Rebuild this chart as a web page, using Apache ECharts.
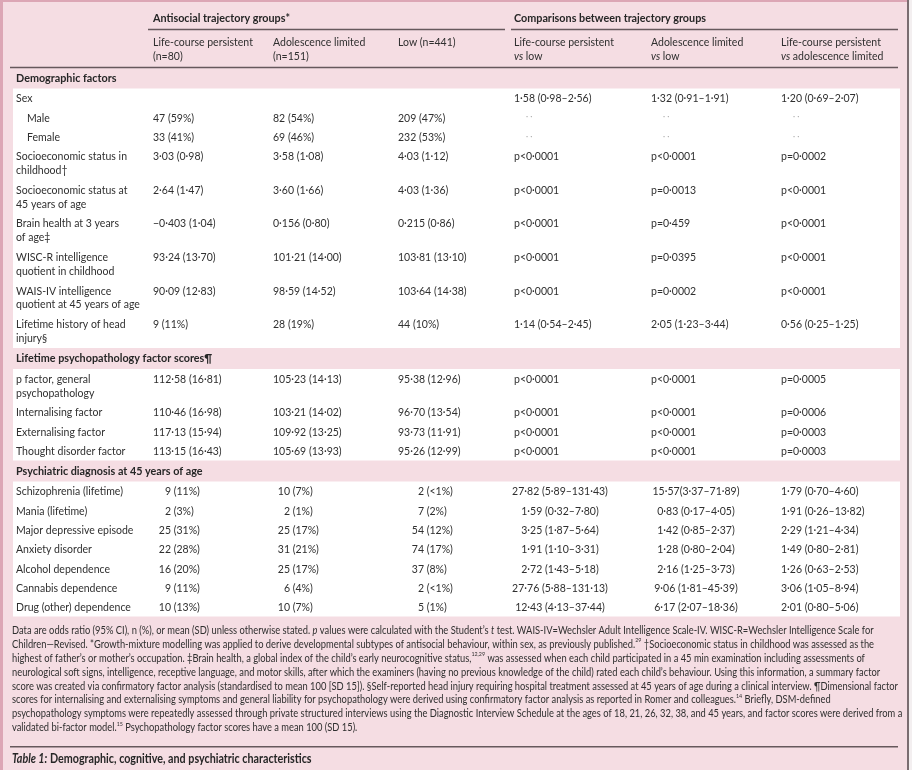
<!DOCTYPE html>
<html><head><meta charset="utf-8">
<script src="https://cdn.jsdelivr.net/npm/echarts/dist/echarts.min.js"></script>
<style>html,body{margin:0;padding:0;background:#fff}#c{width:912px;height:770px}</style>
</head><body><div id="c"></div>
<script>
// ---------------- DATA ----------------
const groupTitles = ['Antisocial trajectory groups*', 'Comparisons between trajectory groups'];
const columnTitles = ['Life-course persistent\n(n=80)', 'Adolescence limited\n(n=151)', 'Low (n=441)',
  'Life-course persistent\n{i|vs} low', 'Adolescence limited\n{i|vs} low', 'Life-course persistent\n{i|vs} adolescence limited'];
const sectionTitles = ['Demographic factors', 'Lifetime psychopathology factor scores¶', 'Psychiatric diagnosis at 45 years of age'];

const demoLabels = ['Sex', 'Male', 'Female', 'Socioeconomic status in\nchildhood†', 'Socioeconomic status at\n45 years of age',
  'Brain health at 3 years\nof age‡', 'WISC-R intelligence\nquotient in childhood', 'WAIS-IV intelligence\nquotient at 45 years of age',
  'Lifetime history of head\ninjury§'];
const demoLCP = ['', '47 (59%)', '33 (41%)', '3·03 (0·98)', '2·64 (1·47)', '−0·403 (1·04)', '93·24 (13·70)', '90·09 (12·83)', '9 (11%)'];
const demoAL = ['', '82 (54%)', '69 (46%)', '3·58 (1·08)', '3·60 (1·66)', '0·156 (0·80)', '101·21 (14·00)', '98·59 (14·52)', '28 (19%)'];
const demoLow = ['', '209 (47%)', '232 (53%)', '4·03 (1·12)', '4·03 (1·36)', '0·215 (0·86)', '103·81 (13·10)', '103·64 (14·38)', '44 (10%)'];
const demoLCPvsLow = ['1·58 (0·98–2·56)', '··', '··', 'p<0·0001', 'p<0·0001', 'p<0·0001', 'p<0·0001', 'p<0·0001', '1·14 (0·54–2·45)'];
const demoALvsLow = ['1·32 (0·91–1·91)', '··', '··', 'p<0·0001', 'p=0·0013', 'p=0·459', 'p=0·0395', 'p=0·0002', '2·05 (1·23–3·44)'];
const demoLCPvsAL = ['1·20 (0·69–2·07)', '··', '··', 'p=0·0002', 'p<0·0001', 'p<0·0001', 'p<0·0001', 'p<0·0001', '0·56 (0·25–1·25)'];

const factorLabels = ['p factor, general\npsychopathology', 'Internalising factor', 'Externalising factor', 'Thought disorder factor'];
const factorLCP = ['112·58 (16·81)', '110·46 (16·98)', '117·13 (15·94)', '113·15 (16·43)'];
const factorAL = ['105·23 (14·13)', '103·21 (14·02)', '109·92 (13·25)', '105·69 (13·93)'];
const factorLow = ['95·38 (12·96)', '96·70 (13·54)', '93·73 (11·91)', '95·26 (12·99)'];
const factorLCPvsLow = ['p<0·0001', 'p<0·0001', 'p<0·0001', 'p<0·0001'];
const factorALvsLow = ['p<0·0001', 'p<0·0001', 'p<0·0001', 'p<0·0001'];
const factorLCPvsAL = ['p=0·0005', 'p=0·0006', 'p=0·0003', 'p=0·0003'];

const diagLabels = ['Schizophrenia (lifetime)', 'Mania (lifetime)', 'Major depressive episode', 'Anxiety disorder',
  'Alcohol dependence', 'Cannabis dependence', 'Drug (other) dependence'];
const diagLCP = ['9 (11%)', '2 (3%)', '25 (31%)', '22 (28%)', '16 (20%)', '9 (11%)', '10 (13%)'];
const diagAL = ['10 (7%)', '2 (1%)', '25 (17%)', '31 (21%)', '25 (17%)', '6 (4%)', '10 (7%)'];
const diagLow = ['2 (<1%)', '7 (2%)', '54 (12%)', '74 (17%)', '37 (8%)', '2 (<1%)', '5 (1%)'];
const diagLCPvsLow = ['27·82 (5·89–131·43)', '1·59 (0·32–7·80)', '3·25 (1·87–5·64)', '1·91 (1·10–3·31)', '2·72 (1·43–5·18)', '27·76 (5·88–131·13)', '12·43 (4·13–37·44)'];
const diagALvsLow = ['15·57(3·37–71·89)', '0·83 (0·17–4·05)', '1·42 (0·85–2·37)', '1·28 (0·80–2·04)', '2·16 (1·25–3·73)', '9·06 (1·81–45·39)', '6·17 (2·07–18·36)'];
const diagLCPvsAL = ['1·79 (0·70–4·60)', '1·91 (0·26–13·82)', '2·29 (1·21–4·34)', '1·49 (0·80–2·81)', '1·26 (0·63–2·53)', '3·06 (1·05–8·94)', '2·01 (0·80–5·06)'];

const footnoteLines = [
  'Data are odds ratio (95% CI), n (%), or mean (SD) unless otherwise stated. {i|p} values were calculated with the Student’s {i|t} test. WAIS-IV=Wechsler Adult Intelligence Scale-IV. WISC-R=Wechsler Intelligence Scale for',
  'Children—Revised. *Growth-mixture modelling was applied to derive developmental subtypes of antisocial behaviour, within sex, as previously published.{s|29} †Socioeconomic status in childhood was assessed as the',
  'highest of father’s or mother’s occupation. ‡Brain health, a global index of the child’s early neurocognitive status,{s|12,29} was assessed when each child participated in a 45 min examination including assessments of',
  'neurological soft signs, intelligence, receptive language, and motor skills, after which the examiners (having no previous knowledge of the child) rated each child’s behaviour. Using this information, a summary factor',
  'score was created via confirmatory factor analysis (standardised to mean 100 [SD 15]). §Self-reported head injury requiring hospital treatment assessed at 45 years of age during a clinical interview. ¶Dimensional factor',
  'scores for internalising and externalising symptoms and general liability for psychopathology were derived using confirmatory factor analysis as reported in Romer and colleagues.{s|14} Briefly, DSM-defined',
  'psychopathology symptoms were repeatedly assessed through private structured interviews using the Diagnostic Interview Schedule at the ages of 18, 21, 26, 32, 38, and 45 years, and factor scores were derived from a',
  'validated bi-factor model.{s|15} Psychopathology factor scores have a mean 100 (SD 15).'
];
const tableCaption = '{bi|Table 1:} Demographic, cognitive, and psychiatric characteristics';

const sections = [
  { title: sectionTitles[0], labels: demoLabels, cols: [demoLCP, demoAL, demoLow, demoLCPvsLow, demoALvsLow, demoLCPvsAL], mode: 'std' },
  { title: sectionTitles[1], labels: factorLabels, cols: [factorLCP, factorAL, factorLow, factorLCPvsLow, factorALvsLow, factorLCPvsAL], mode: 'std' },
  { title: sectionTitles[2], labels: diagLabels, cols: [diagLCP, diagAL, diagLow, diagLCPvsLow, diagALvsLow, diagLCPvsAL], mode: 'diag' }
];

// ---------------- LAYOUT / STYLE ----------------
const W = 912, H = 770;
const FF = 'Lato, "Noto Sans", sans-serif';
const TEXT = '#2f2f2f', BOLD = '#262626', LINE = '#66585c';
const BG = '#f5dde3', BORDER = '#dca6b5';
const LABEL_X = 16, INDENT_X = 27, INDENTED = new Set(['Male', 'Female']);
const COL_X = [153, 273, 398, 514, 651, 781];
const DIAG_PAREN_X = [171, 290, 424];
const DIAG_CENTER_X = [null, null, null, 560, 696];
const FS = 12, NOTE_FS = 10.5, CAP_FS = 12.5;
const ROW_BASE = 19.3, ROW_EXTRA = 14.3, TXT_LH = 13.8, BAND_H = 21;
const WHITE_X0 = 13, WHITE_X1 = 900;

const mctx = document.createElement('canvas').getContext('2d');
function mw(s, font) { mctx.font = font; return mctx.measureText(s.replace(/\{\w+\|([^}]*)\}/g, '$1')).width; }
const SX_BODY = 111 / mw('Socioeconomic status in', `normal ${FS}px ${FF}`);
const SX_BOLD = 137 / mw(groupTitles[0], `bold ${FS}px ${FF}`);
const SX_NOTE = 886 / mw(footnoteLines[4], `normal ${NOTE_FS}px ${FF}`);
const SX_CAP = 301 / mw(tableCaption, `bold ${CAP_FS}px ${FF}`);

const items = [];
function rect(x, y, w, h, fill) { items.push({ kind: 'rect', x, y, w, h, fill }); }
function line(x, y, x2, y2, stroke, lw) { items.push({ kind: 'line', x, y, x2, y2, stroke, lw }); }
function text(x, yCenter, s, o) {
  o = o || {};
  const lh = o.lh || TXT_LH;
  items.push(Object.assign({ kind: 'text', x, y: yCenter - lh / 2, text: s, lh, size: FS, weight: 'normal', align: 'left', fill: TEXT, sx: SX_BODY }, o));
}

// frame
rect(WHITE_X1, 0, 7, H, BG);
rect(0, 0, 3, H, BORDER);
rect(0, 0, W, 2, BORDER);
rect(907, 0, 2, H, '#7a6d71');
rect(909, 0, 3, H, '#f3eff0');

// header
const boldOpt = { weight: 'bold', fill: BOLD, sx: SX_BOLD };
text(COL_X[0], 18, groupTitles[0], boldOpt);
text(COL_X[3], 18, groupTitles[1], boldOpt);
line(148, 29.5, 505, 29.5, LINE, 1.4);
line(511, 29.5, 898, 29.5, LINE, 1.4);
const richI = { i: { fontStyle: 'italic', fontSize: FS, fontFamily: FF, fill: TEXT, lineHeight: TXT_LH } };
columnTitles.forEach((t, i) => text(COL_X[i], 42, t, { rich: richI }));
line(10, 67.5, 898, 67.5, LINE, 1.5);

// sections
let y = 67.5;
sections.forEach(sec => {
  text(LABEL_X, y + 10.5, sec.title, { weight: 'bold', fill: BOLD, sx: SX_BOLD });
  y += BAND_H;
  const rowsStart = y;
  const rowItems = [];
  sec.labels.forEach((lab, r) => {
    const nLines = lab.split('\n').length;
    const c = y + 10;
    rowItems.push([lab, r, c]);
    y += ROW_BASE + ROW_EXTRA * (nLines - 1);
  });
  rect(WHITE_X0, rowsStart, WHITE_X1 - WHITE_X0, y - rowsStart, '#ffffff');
  rowItems.forEach(([lab, r, c]) => {
    text(INDENTED.has(lab) ? INDENT_X : LABEL_X, c, lab);
    sec.cols.forEach((col, k) => {
      const v = col[r];
      if (!v) return;
      if (v === '··') { text(COL_X[k] + 12, c - 1, v.split('').join(' '), { fill: '#a0a0a0', size: 8, sx: 1 }); return; }
      if (sec.mode === 'diag' && k < 3) {
        const i = v.indexOf(' (');
        text(DIAG_PAREN_X[k], c, v.slice(0, i), { align: 'right' });
        text(DIAG_PAREN_X[k], c, v.slice(i), {});
      } else if (sec.mode === 'diag' && DIAG_CENTER_X[k]) {
        text(DIAG_CENTER_X[k], c, v, { align: 'center' });
      } else {
        text(COL_X[k], c, v);
      }
    });
  });
});

// footnotes
const noteTop = y + 14;
const richNote = {
  i: { fontStyle: 'italic', fontSize: NOTE_FS, fontFamily: FF, fill: TEXT, lineHeight: 13.9 },
  s: { fontSize: 6, fontFamily: FF, fill: TEXT, lineHeight: 13.9, verticalAlign: 'top', padding: [0, 0, 5, 0] }
};
footnoteLines.forEach((t, i) => text(12, noteTop + i * 13.9, t, { size: NOTE_FS, sx: SX_NOTE, lh: 13.9, rich: richNote }));
const capLineY = noteTop + footnoteLines.length * 13.9 + 5;
line(10, capLineY, 898, capLineY, LINE, 1.5);
text(12, capLineY + 12, tableCaption, { size: CAP_FS, weight: 'bold', fill: BOLD, sx: SX_CAP,
  rich: { bi: { fontStyle: 'italic', fontWeight: 'bold', fontSize: CAP_FS, fontFamily: FF, fill: BOLD, lineHeight: TXT_LH } } });

// ---------------- CHART ----------------
function renderItem(params, api) {
  const it = items[api.value(2)];
  const p = api.coord([api.value(0), api.value(1)]);
  if (it.kind === 'rect') {
    const q = api.coord([it.x + it.w, it.y + it.h]);
    return { type: 'rect', shape: { x: Math.min(p[0], q[0]), y: Math.min(p[1], q[1]), width: Math.abs(q[0] - p[0]), height: Math.abs(q[1] - p[1]) }, style: { fill: it.fill } };
  }
  if (it.kind === 'line') {
    const q = api.coord([it.x2, it.y2]);
    return { type: 'line', shape: { x1: p[0], y1: p[1], x2: q[0], y2: q[1] }, style: { stroke: it.stroke, lineWidth: it.lw } };
  }
  return {
    type: 'text', x: p[0], y: p[1], scaleX: it.sx,
    style: { text: it.text, fill: it.fill, fontSize: it.size, fontFamily: FF, fontWeight: it.weight, align: it.align, verticalAlign: 'top', lineHeight: it.lh, rich: it.rich }
  };
}

const chart = echarts.init(document.getElementById('c'), null, { renderer: 'canvas' });
chart.setOption({
  animation: false,
  backgroundColor: BG,
  grid: { left: 0, right: 0, top: 0, bottom: 0 },
  xAxis: { type: 'value', min: 0, max: W, show: false },
  yAxis: { type: 'value', min: 0, max: H, inverse: true, show: false },
  series: [{
    type: 'custom', coordinateSystem: 'cartesian2d', silent: true, clip: false,
    encode: { x: 0, y: 1 },
    data: items.map((it, i) => [it.x, it.y, i]),
    renderItem
  }]
});
</script>
</body></html>
